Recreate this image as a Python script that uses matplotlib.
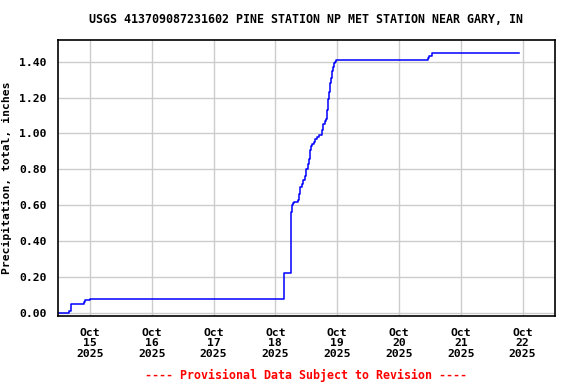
import matplotlib
matplotlib.use("Agg")
import matplotlib.pyplot as plt
import pandas as pd

times = ["2025-10-14 11:36", "2025-10-14 15:55", "2025-10-14 16:30", "2025-10-14 21:35",
         "2025-10-14 22:10", "2025-10-15 00:05", "2025-10-18 03:15", "2025-10-18 06:05",
         "2025-10-18 06:15", "2025-10-18 06:25", "2025-10-18 06:50", "2025-10-18 07:05",
         "2025-10-18 08:40", "2025-10-18 09:10", "2025-10-18 09:40", "2025-10-18 10:20",
         "2025-10-18 10:55", "2025-10-18 11:35", "2025-10-18 12:05", "2025-10-18 12:40",
         "2025-10-18 13:10", "2025-10-18 13:35", "2025-10-18 13:55", "2025-10-18 14:25",
         "2025-10-18 14:55", "2025-10-18 15:30", "2025-10-18 16:20", "2025-10-18 16:55",
         "2025-10-18 18:10", "2025-10-18 18:40", "2025-10-18 19:15", "2025-10-18 19:50",
         "2025-10-18 20:10", "2025-10-18 20:25", "2025-10-18 20:45", "2025-10-18 21:10",
         "2025-10-18 21:35", "2025-10-18 21:55", "2025-10-18 22:20", "2025-10-18 22:45",
         "2025-10-18 23:15", "2025-10-18 23:35", "2025-10-20 11:20", "2025-10-20 11:45",
         "2025-10-20 12:55", "2025-10-21 22:25"]
precip = [0.00, 0.01, 0.05, 0.06, 0.07, 0.08, 0.22, 0.46,
          0.56, 0.60, 0.61, 0.62, 0.63, 0.66, 0.70, 0.72,
          0.74, 0.76, 0.80, 0.83, 0.86, 0.91, 0.93, 0.94,
          0.95, 0.97, 0.98, 0.99, 1.02, 1.05, 1.07, 1.08,
          1.13, 1.19, 1.23, 1.28, 1.31, 1.35, 1.37, 1.39,
          1.40, 1.41, 1.42, 1.43, 1.45, 1.45]

tick_dates = ["2025-10-15", "2025-10-16", "2025-10-17", "2025-10-18",
              "2025-10-19", "2025-10-20", "2025-10-21", "2025-10-22"]
tick_labels = ["Oct\n15\n2025", "Oct\n16\n2025", "Oct\n17\n2025", "Oct\n18\n2025",
               "Oct\n19\n2025", "Oct\n20\n2025", "Oct\n21\n2025", "Oct\n22\n2025"]
yticks = [0.0, 0.2, 0.4, 0.6, 0.8, 1.0, 1.2, 1.4]
ytick_labels = ["0.00", "0.20", "0.40", "0.60", "0.80", "1.00", "1.20", "1.40"]

title = "USGS 413709087231602 PINE STATION NP MET STATION NEAR GARY, IN"
ylabel = "Precipitation, total, inches"
footer = "---- Provisional Data Subject to Revision ----"

plt.rcParams['font.family'] = ['DejaVu Sans Mono']
plt.rcParams['font.weight'] = 'bold'
FS = 8.2

fig = plt.figure(figsize=(5.76, 3.84), dpi=100)
ax = fig.add_axes([0.1007, 0.1758, 0.862, 0.7212])

t = pd.to_datetime(times)
ax.step(t, precip, where='post', color='#0000ff', lw=1.1)

ax.set_xlim(pd.Timestamp("2025-10-14 11:36"), pd.Timestamp("2025-10-22 12:24"))
ax.set_ylim(-0.02, 1.523)
ax.set_xticks(pd.to_datetime(tick_dates))
ax.set_xticklabels(tick_labels, fontsize=FS, fontweight='bold', linespacing=1.08)
ax.set_yticks(yticks)
ax.set_yticklabels(ytick_labels, fontsize=FS, fontweight='bold')
ax.tick_params(axis='both', length=0)
ax.tick_params(axis='x', pad=8)
ax.tick_params(axis='y', pad=8)
ax.grid(True, color='#cccccc', lw=1.0)
ax.set_axisbelow(True)
for s in ax.spines.values():
    s.set_color('black')
    s.set_linewidth(1.2)

ax.set_ylabel(ylabel, fontsize=FS, fontweight='bold')
ax.yaxis.set_label_coords(-0.093, 0.5)
fig.text(0.5315, 0.95, title, ha='center', va='center', fontsize=8.4, fontweight='bold')
fig.text(0.5315, 0.023, footer, ha='center', va='center', fontsize=8.4, fontweight='bold', color='red')

fig.savefig("out.png", dpi=100)
